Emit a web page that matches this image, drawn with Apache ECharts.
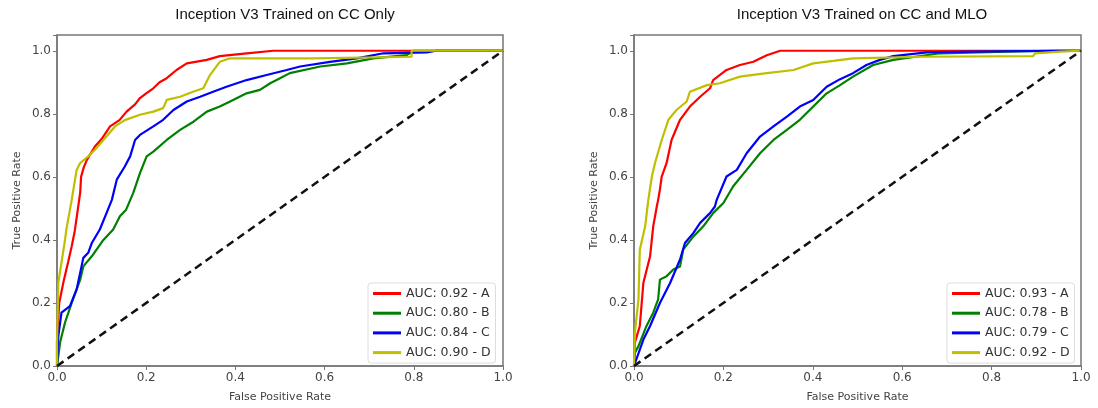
<!DOCTYPE html>
<html>
<head>
<meta charset="utf-8">
<script src="https://cdn.jsdelivr.net/npm/echarts@6/dist/echarts.min.js"></script>
<style>html,body{margin:0;padding:0;background:#fff}#c{width:1098px;height:408px}</style>
</head>
<body>
<div id="c"></div>
<script>
// ---- data: [false positive rate, true positive rate] ----
const titles = ["Inception V3 Trained on CC Only", "Inception V3 Trained on CC and MLO"];
const xTicks = [0, 0.2, 0.4, 0.6, 0.8, 1.0];
const yTicks = [0, 0.2, 0.4, 0.6, 0.8, 1.0];
const namesCC = ["AUC: 0.92 - A", "AUC: 0.80 - B", "AUC: 0.84 - C", "AUC: 0.90 - D"];
const namesMLO = ["AUC: 0.93 - A", "AUC: 0.78 - B", "AUC: 0.79 - C", "AUC: 0.92 - D"];
const chance = [[0,0],[1,1]];

const ccA = [[0,0],[0,0.08],[0.005,0.2],[0.015,0.27],[0.025,0.33],[0.033,0.38],[0.04,0.43],[0.047,0.5],[0.052,0.55],[0.054,0.6],[0.06,0.63],[0.067,0.654],[0.085,0.696],[0.1,0.72],[0.119,0.76],[0.14,0.78],[0.156,0.807],[0.175,0.83],[0.186,0.85],[0.2,0.865],[0.216,0.881],[0.23,0.9],[0.246,0.913],[0.268,0.939],[0.291,0.96],[0.336,0.971],[0.365,0.983],[0.425,0.992],[0.485,1.0],[1,1]];
const ccB = [[0,0],[0.007,0.075],[0.018,0.138],[0.033,0.2],[0.052,0.274],[0.059,0.316],[0.078,0.348],[0.104,0.4],[0.126,0.433],[0.141,0.475],[0.155,0.496],[0.171,0.549],[0.186,0.612],[0.201,0.665],[0.216,0.68],[0.246,0.717],[0.276,0.749],[0.306,0.775],[0.336,0.807],[0.365,0.823],[0.395,0.844],[0.425,0.865],[0.455,0.876],[0.478,0.897],[0.5,0.913],[0.522,0.929],[0.59,0.95],[0.65,0.96],[0.709,0.976],[0.784,0.986],[0.8,1.0],[1,1]];
const ccC = [[0,0],[0.003,0.095],[0.01,0.169],[0.029,0.19],[0.044,0.243],[0.059,0.343],[0.07,0.359],[0.078,0.39],[0.096,0.433],[0.111,0.485],[0.123,0.527],[0.134,0.591],[0.152,0.633],[0.164,0.665],[0.175,0.717],[0.186,0.733],[0.216,0.76],[0.238,0.781],[0.261,0.812],[0.291,0.839],[0.321,0.854],[0.35,0.87],[0.38,0.886],[0.425,0.907],[0.47,0.923],[0.515,0.939],[0.545,0.95],[0.612,0.965],[0.672,0.976],[0.732,0.992],[0.829,0.995],[0.85,1.0],[1,1]];
const ccD = [[0,0],[0,0.075],[0.003,0.265],[0.018,0.4],[0.021,0.433],[0.033,0.527],[0.044,0.622],[0.052,0.644],[0.07,0.665],[0.085,0.686],[0.104,0.717],[0.13,0.76],[0.152,0.78],[0.186,0.797],[0.216,0.807],[0.238,0.818],[0.246,0.844],[0.276,0.854],[0.305,0.87],[0.328,0.881],[0.343,0.923],[0.365,0.965],[0.388,0.976],[0.574,0.976],[0.574,0.981],[0.795,0.981],[0.795,1.0],[1,1]];

const mloA = [[0,0],[0.002,0.074],[0.013,0.127],[0.021,0.264],[0.036,0.348],[0.043,0.443],[0.051,0.506],[0.054,0.527],[0.058,0.56],[0.062,0.601],[0.073,0.644],[0.084,0.717],[0.103,0.781],[0.125,0.823],[0.148,0.854],[0.17,0.881],[0.177,0.907],[0.207,0.939],[0.237,0.955],[0.267,0.965],[0.297,0.986],[0.327,1.0],[1,1]];
const mloB = [[0,0],[0.002,0.042],[0.01,0.063],[0.028,0.127],[0.043,0.169],[0.054,0.211],[0.058,0.274],[0.073,0.285],[0.088,0.306],[0.103,0.316],[0.11,0.369],[0.133,0.411],[0.155,0.443],[0.177,0.485],[0.2,0.517],[0.222,0.57],[0.252,0.622],[0.282,0.675],[0.312,0.717],[0.342,0.749],[0.371,0.781],[0.401,0.823],[0.431,0.865],[0.461,0.891],[0.49,0.918],[0.535,0.955],[0.58,0.971],[0.685,0.992],[0.834,0.997],[0.946,1.0],[1,1]];
const mloC = [[0,0],[0.021,0.084],[0.036,0.127],[0.058,0.2],[0.081,0.264],[0.103,0.338],[0.114,0.39],[0.133,0.422],[0.148,0.454],[0.17,0.485],[0.181,0.506],[0.185,0.527],[0.207,0.601],[0.23,0.622],[0.252,0.675],[0.282,0.728],[0.312,0.76],[0.342,0.791],[0.371,0.823],[0.401,0.844],[0.431,0.886],[0.461,0.91],[0.49,0.929],[0.52,0.955],[0.55,0.971],[0.58,0.983],[0.655,0.995],[0.759,0.997],[0.946,1.0],[1,1]];
const mloD = [[0,0],[0,0.01],[0.002,0.106],[0.01,0.211],[0.013,0.369],[0.025,0.443],[0.032,0.527],[0.04,0.601],[0.047,0.644],[0.062,0.717],[0.077,0.781],[0.095,0.812],[0.118,0.839],[0.125,0.87],[0.163,0.891],[0.192,0.897],[0.237,0.918],[0.297,0.929],[0.357,0.939],[0.401,0.96],[0.446,0.968],[0.49,0.976],[0.64,0.981],[0.893,0.983],[0.897,0.992],[0.953,0.997],[1,1]];

const colors = ["#ff0000", "#008000", "#0000ff", "#bfbf00"];

const chart = echarts.init(document.getElementById('c'), null, {renderer: 'canvas'});
const FONT = "DejaVu Sans";

function xAx(gi) {
  return {
    type: 'value', gridIndex: gi, min: 0, max: 1, interval: 0.2,
    name: 'False Positive Rate', nameLocation: 'middle', nameGap: 26,
    nameTextStyle: {fontFamily: FONT, fontSize: 11, color: '#444'},
    axisLine: {show: true, onZero: false, lineStyle: {color: '#777', width: 1.5}},
    axisTick: {show: true, length: 4, lineStyle: {color: '#777'}},
    axisLabel: {fontFamily: FONT, fontSize: 12, color: '#444', margin: 6, formatter: v => v.toFixed(1)},
    splitLine: {show: false}
  };
}
function yAx(gi) {
  return {
    type: 'value', gridIndex: gi, min: 0, max: 1.05, interval: 0.2,
    name: 'True Positive Rate', nameLocation: 'middle', nameGap: 34,
    nameTextStyle: {fontFamily: FONT, fontSize: 11, color: '#444'},
    axisLine: {show: true, onZero: false, lineStyle: {color: '#777', width: 1.5}},
    axisTick: {show: true, length: 4, lineStyle: {color: '#777'}},
    axisLabel: {fontFamily: FONT, fontSize: 12, color: '#444', margin: 6,
      formatter: v => (v > 1.0001 ? '' : v.toFixed(1))},
    splitLine: {show: false}
  };
}
function curves(gi, names, datas) {
  const s = datas.map((d, i) => ({
    name: names[i], type: 'line', xAxisIndex: gi, yAxisIndex: gi,
    data: d, showSymbol: false, symbol: 'none', animation: false,
    lineStyle: {color: colors[i], width: 2.2}, itemStyle: {color: colors[i]}, z: 3
  }));
  s.push({
    name: 'chance' + gi, type: 'line', xAxisIndex: gi, yAxisIndex: gi,
    data: chance, showSymbol: false, symbol: 'none', animation: false,
    lineStyle: {color: '#111', width: 2.5, type: [8, 5]}, z: 4
  });
  return s;
}
function legend(left, names) {
  return {
    data: names, orient: 'vertical', left: left, top: 283,
    icon: 'rect', itemWidth: 28, itemHeight: 3, itemGap: 6.7,
    textStyle: {fontFamily: FONT, fontSize: 12.5, color: '#333'},
    backgroundColor: '#fff', borderColor: '#ddd', borderWidth: 1, borderRadius: 3,
    padding: [4, 5, 4, 5]
  };
}

chart.setOption({
  backgroundColor: '#fff',
  animation: false,
  title: [
    {text: titles[0], left: 280, top: 2, textAlign: 'center', textStyle: {fontFamily: 'Liberation Sans', fontSize: 15, fontWeight: 'normal', color: '#111'}},
    {text: titles[1], left: 857, top: 2, textAlign: 'center', textStyle: {fontFamily: 'Liberation Sans', fontSize: 15, fontWeight: 'normal', color: '#111'}}
  ],
  grid: [
    {left: 57, top: 35, width: 446, height: 332, show: true, borderColor: '#777', borderWidth: 1.5, backgroundColor: 'transparent'},
    {left: 634, top: 35, width: 447, height: 332, show: true, borderColor: '#777', borderWidth: 1.5, backgroundColor: 'transparent'}
  ],
  xAxis: [xAx(0), xAx(1)],
  yAxis: [yAx(0), yAx(1)],
  legend: [legend(368, namesCC), legend(947, namesMLO)],
  series: [].concat(curves(0, namesCC, [ccA, ccB, ccC, ccD]), curves(1, namesMLO, [mloA, mloB, mloC, mloD]))
});
</script>
</body>
</html>
